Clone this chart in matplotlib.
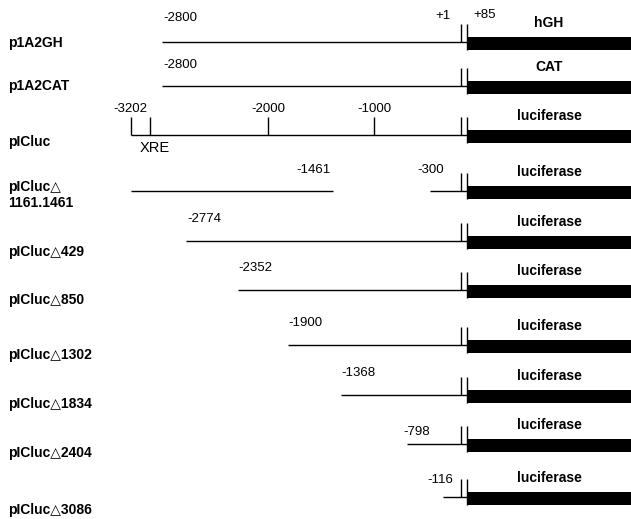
import numpy as np
import matplotlib.pyplot as plt

plt.rcParams['font.family'] = ['Liberation Sans', 'DejaVu Sans']

# constructs and reporter genes
constructs = ['p1A2GH', 'p1A2CAT', 'pICluc', 'pICluc△\n1161.1461', 'pICluc△429',
              'pICluc△850', 'pICluc△1302', 'pICluc△1834', 'pICluc△2404', 'pICluc△3086']
reporters = ['hGH', 'CAT', 'luciferase', 'luciferase', 'luciferase',
             'luciferase', 'luciferase', 'luciferase', 'luciferase', 'luciferase']
# 5' end of the promoter fragment (bp relative to transcription start)
start_bp = [-2800, -2800, -3202, -3202, -2774, -2352, -1900, -1368, -798, -116]
start_text = ['-2800', '-2800', '-3202', None, '-2774', '-2352', '-1900', '-1368', '-798', '-116']
# internal deletion in pICluc△1161.1461
del_from, del_to = -1461, -300
# map of pICluc
map_ticks = [-3202, -2000, -1000]
xre_bp = -2950
tss, atg, gene_end = 1, 85, 1200

# the drawing is a schematic, not to scale: piecewise scale
bp_anchor = [-4900, -3202, -2800, -2774, -2352, -2000, -1900, -1461, -1368,
             -1000, -798, -300, -116, 1, 85, 1200]
px_anchor = [0, 131, 162, 186, 238, 268, 288, 333, 341, 374, 407, 430, 443, 461, 467, 631]

def fwd(v):
    return np.interp(v, bp_anchor, px_anchor)

def inv(v):
    return np.interp(v, px_anchor, bp_anchor)

# layout (pixels, y downwards)
row_y = [42, 86, 135, 191, 241, 290, 345, 395, 444, 497]
name_y = [43, 86, 142, 195, 252, 300, 355, 404, 453, 510]
lab_dx = [1, 1, -1, 0, 1, 0, 0, 0, -4, -16]
lab_dy = [24, 21, 26, 0, 22, 22, 22, 22, 12, 17]

fig = plt.figure(figsize=(6.31, 5.19), dpi=100)
ax = fig.add_axes([0, 0, 1, 1])
ax.set_xscale('function', functions=(fwd, inv))
ax.set_xlim(bp_anchor[0], bp_anchor[-1])
ax.set_ylim(519, 0)
ax.axis('off')

lw = 1.0
fs_num = 9.5
for i, y in enumerate(row_y):
    # promoter line
    if i == 3:
        ax.hlines(y, start_bp[i], del_from, color='black', lw=lw)
        ax.hlines(y, del_to, atg, color='black', lw=lw)
    else:
        ax.hlines(y, start_bp[i], atg, color='black', lw=lw)
    # +1 and +85 marks
    ax.vlines(tss, y - 18, y, color='black', lw=lw)
    ax.vlines(atg, y - 18, y + 8, color='black', lw=lw)
    # reporter gene
    ax.barh(y + 1.5, gene_end - atg, left=atg, height=13, color='black')
    ax.text((atg + gene_end) / 2, y - 19, reporters[i], ha='center', va='center',
            fontsize=10, fontweight='bold')
    # construct name
    ax.text(8 / 631, name_y[i], constructs[i], transform=ax.get_yaxis_transform(),
            ha='left', va='center', fontsize=10, fontweight='bold', linespacing=1.15)
    # 5' end label
    if start_text[i] is not None:
        ha = 'center' if i == 2 else 'left'
        ax.annotate(start_text[i], (start_bp[i], y), xytext=(lab_dx[i], lab_dy[i]),
                    textcoords='offset pixels', ha=ha, va='center', fontsize=fs_num)

# deletion end labels
ax.annotate(str(del_from), (del_from, row_y[3]), xytext=(-2, 21),
            textcoords='offset pixels', ha='right', va='center', fontsize=fs_num)
ax.annotate(str(del_to), (del_to, row_y[3]), xytext=(-13, 21),
            textcoords='offset pixels', ha='left', va='center', fontsize=fs_num)

# pICluc map
y = row_y[2]
ax.vlines(map_ticks + [xre_bp], y - 18, y, color='black', lw=lw)
for t in map_ticks[1:]:
    ax.annotate(str(t), (t, y), xytext=(0, 26), textcoords='offset pixels',
                ha='center', va='center', fontsize=fs_num)
ax.annotate('XRE', (xre_bp, y), xytext=(4, -13), textcoords='offset pixels',
            ha='center', va='center', fontsize=10.5)

# +1 / +85 labels on top row
ax.annotate('+1', (tss, row_y[0]), xytext=(-18, 26), textcoords='offset pixels',
            ha='center', va='center', fontsize=fs_num)
ax.annotate('+85', (atg, row_y[0]), xytext=(18, 27), textcoords='offset pixels',
            ha='center', va='center', fontsize=fs_num)

plt.savefig('out.png', dpi=100)
